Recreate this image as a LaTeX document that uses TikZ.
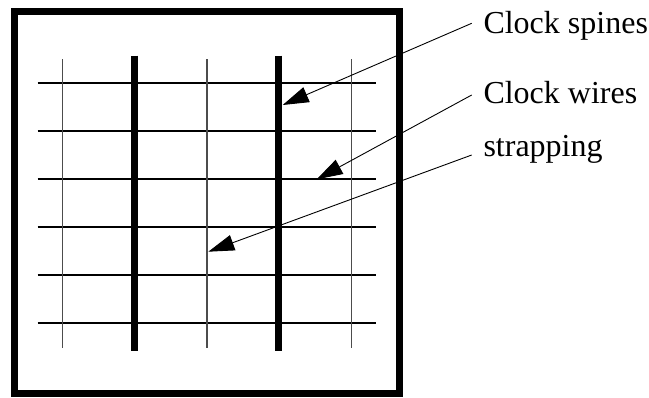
\documentclass[tikz,border=0pt]{standalone}
\usepackage{fontspec}
\setmainfont{Liberation Serif}
\usetikzlibrary{positioning}
\usetikzlibrary{calc}
\usetikzlibrary{arrows.meta}

\tikzset{
    chipedge/.style={line width=7pt, line join=miter},
    wire/.style={line width=2pt},
    strap/.style={line width=1.2pt, black!70},
    spine/.style={line width=7pt},
    pointer/.style={line width=0.9pt, -{Triangle[length=26pt, width=16pt]}},
    tag/.style={inner sep=0pt, anchor=base west, font=\fontsize{32}{38}\selectfont}
}

\begin{document}
\begin{tikzpicture}[x=1pt, y=-1pt]
    \useasboundingbox (0,0) rectangle (649,397);

    % clock wires
    \foreach \i in {0,...,5} {
        \pgfmathsetmacro\y{83.3+\i*48}
        \draw[wire] (37.7,\y) -- (376,\y);
    }

    % strapping
    \foreach \i in {0,1,2} {
        \pgfmathsetmacro\x{62.7+\i*144.2}
        \draw[strap] (\x,59.3) -- (\x,347.7);
    }

    % clock spines
    \foreach \i in {0,1} {
        \pgfmathsetmacro\x{134.7+\i*144}
        \draw[spine] (\x,55.7) -- (\x,351);
    }

    % chip outline
    \draw[chipedge] (14.8,11.3) rectangle (399,393.5);

    % labels
    \node[tag] (spines) at (483.3,33.3) {Clock spines};
    \node[tag] (wires) at (483.3,103.3) {Clock wires};
    \node[tag] (straps) at (483.3,156.7) {strapping};

    \coordinate (spinetip) at (282.7,105);
    \coordinate (wiretip) at (316.7,179.3);
    \coordinate (straptip) at (208.3,251.7);

    \draw[pointer] ($(spines.base west)+(-11.6,-10)$) -- (spinetip);
    \draw[pointer] ($(wires.base west)+(-11.6,-8.3)$) -- (wiretip);
    \draw[pointer] ($(straps.base west)+(-11.6,-1.7)$) -- (straptip);
\end{tikzpicture}
\end{document}
